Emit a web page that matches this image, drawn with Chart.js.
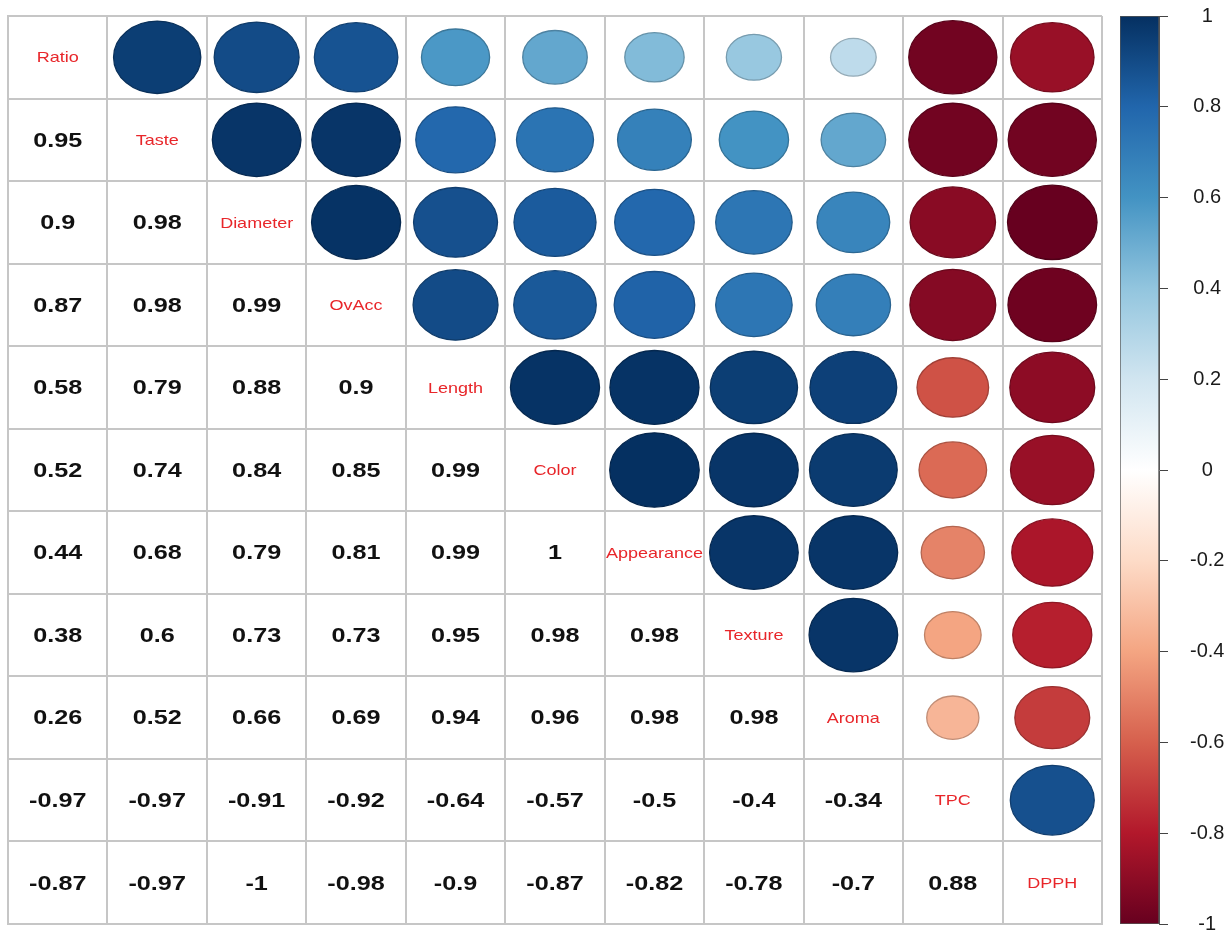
<!DOCTYPE html>
<html>
<head>
<meta charset="utf-8">
<title>Correlation matrix</title>
<script src="https://cdn.jsdelivr.net/npm/chart.js@4.4.1/dist/chart.umd.min.js"></script>
<style>
  html, body { margin: 0; padding: 0; background: #fff; }
  #wrap { position: relative; width: 1232px; height: 931px; }
  .box { position: absolute; top: 0; }
</style>
</head>
<body>
<div id="wrap">
  <div class="box" style="left:0;width:1110px;height:931px"><canvas id="corr"></canvas></div>
  <div class="box" style="left:1100px;width:132px;height:931px"><canvas id="bar"></canvas></div>
</div>
<script>
const variables = ['Ratio', 'Taste', 'Diameter', 'OvAcc', 'Length', 'Color', 'Appearance', 'Texture', 'Aroma', 'TPC', 'DPPH'];

// lower triangle of the correlation matrix, one row per variable
const lowerTri = [
  [],
  [0.95],
  [0.9, 0.98],
  [0.87, 0.98, 0.99],
  [0.58, 0.79, 0.88, 0.9],
  [0.52, 0.74, 0.84, 0.85, 0.99],
  [0.44, 0.68, 0.79, 0.81, 0.99, 1],
  [0.38, 0.6, 0.73, 0.73, 0.95, 0.98, 0.98],
  [0.26, 0.52, 0.66, 0.69, 0.94, 0.96, 0.98, 0.98],
  [-0.97, -0.97, -0.91, -0.92, -0.64, -0.57, -0.5, -0.4, -0.34],
  [-0.87, -0.97, -1, -0.98, -0.9, -0.87, -0.82, -0.78, -0.7, 0.88]
];

const colorbarTicks = [-1, -0.8, -0.6, -0.4, -0.2, 0, 0.2, 0.4, 0.6, 0.8, 1];

// RdBu, from -1 to 1
const paletteStops = ['#67001F', '#B2182B', '#D6604D', '#F4A582', '#FDDBC7', '#FFFFFF',
                      '#D1E5F0', '#92C5DE', '#4393C3', '#2166AC', '#053061'];

const STRETCH = 1.2;   // text is drawn a bit wider than tall, like the ellipses

const hexToRgb = (h) => [1, 3, 5].map(i => parseInt(h.substr(i, 2), 16));

const corrRgb = (v) => {
  const t = (Math.max(-1, Math.min(1, v)) + 1) / 2 * (paletteStops.length - 1);
  const i = Math.min(Math.floor(t), paletteStops.length - 2);
  const f = t - i;
  const a = hexToRgb(paletteStops[i]), b = hexToRgb(paletteStops[i + 1]);
  return a.map((x, k) => Math.round(x + (b[k] - x) * f));
};
const rgbStr = (c, k = 1) => `rgb(${Math.round(c[0] * k)},${Math.round(c[1] * k)},${Math.round(c[2] * k)})`;

// full symmetric matrix
const n = variables.length;
const matrix = variables.map((_, i) => variables.map((_, j) => {
  if (i === j) return 1;
  return i > j ? lowerTri[i][j] : lowerTri[j][i];
}));

const upperPts = [], lowerPts = [], diagPts = [];
for (let i = 0; i < n; i++) {
  for (let j = 0; j < n; j++) {
    const p = { x: j + 0.5, y: i + 0.5, v: matrix[i][j], name: variables[i] };
    if (j > i) upperPts.push(p);
    else if (j < i) lowerPts.push(p);
    else diagPts.push(p);
  }
}

const stretchedText = (ctx, txt, x, y) => {
  ctx.save();
  ctx.translate(x, y);
  ctx.scale(STRETCH, 1);
  ctx.fillText(txt, 0, 0);
  ctx.restore();
};

const cellPlugin = {
  id: 'cellPlugin',
  afterDatasetsDraw(chart) {
    const { ctx, scales: { x, y } } = chart;
    const cw = Math.abs(x.getPixelForValue(1) - x.getPixelForValue(0));
    const ch = Math.abs(y.getPixelForValue(1) - y.getPixelForValue(0));

    // circles (area ~ |r|) in the upper triangle
    chart.getDatasetMeta(0).data.forEach((el, k) => {
      const v = upperPts[k].v;
      const s = 0.45 * Math.sqrt(Math.abs(v));
      const c = corrRgb(v);
      ctx.save();
      ctx.beginPath();
      ctx.ellipse(el.x, el.y, s * cw, s * ch, 0, 0, Math.PI * 2);
      ctx.fillStyle = rgbStr(c);
      ctx.fill();
      ctx.lineWidth = 1.3;
      ctx.strokeStyle = rgbStr(c, 0.78);
      ctx.stroke();
      ctx.restore();
    });

    ctx.save();
    ctx.textAlign = 'center';
    ctx.textBaseline = 'middle';

    // coefficients in the lower triangle
    ctx.fillStyle = '#111';
    ctx.font = 'bold 21px "Liberation Sans", Arial, sans-serif';
    chart.getDatasetMeta(1).data.forEach((el, k) => {
      stretchedText(ctx, String(lowerPts[k].v), el.x, el.y + 1);
    });

    // variable names on the diagonal
    ctx.fillStyle = '#e8262a';
    ctx.font = '15px "Liberation Sans", Arial, sans-serif';
    chart.getDatasetMeta(2).data.forEach((el, k) => {
      stretchedText(ctx, diagPts[k].name, el.x, el.y + 1);
    });
    ctx.restore();
  }
};

const gridAxis = (extra) => Object.assign({
  type: 'linear',
  min: 0,
  max: n,
  ticks: { display: false, stepSize: 1 },
  grid: { color: '#c6c6c6', lineWidth: 2, drawTicks: false },
  border: { display: true, color: '#c6c6c6', width: 2 }
}, extra);

new Chart(document.getElementById('corr'), {
  type: 'scatter',
  data: {
    datasets: [
      { label: 'upper', data: upperPts, pointRadius: 0 },
      { label: 'lower', data: lowerPts, pointRadius: 0 },
      { label: 'diag', data: diagPts, pointRadius: 0 }
    ]
  },
  options: {
    responsive: true,
    maintainAspectRatio: false,
    animation: false,
    events: [],
    layout: { padding: { left: 8, top: 16, right: 8, bottom: 7 } },
    plugins: { legend: { display: false }, tooltip: { enabled: false } },
    scales: {
      x: gridAxis({}),
      y: gridAxis({ reverse: true })
    }
  },
  plugins: [cellPlugin]
});

// colour key
new Chart(document.getElementById('bar'), {
  type: 'bar',
  data: {
    labels: [''],
    datasets: [{
      data: [[-1, 1]],
      backgroundColor: (context) => {
        const area = context.chart.chartArea;
        if (!area) return '#fff';
        const g = context.chart.ctx.createLinearGradient(0, area.bottom, 0, area.top);
        paletteStops.forEach((c, k) => g.addColorStop(k / (paletteStops.length - 1), c));
        return g;
      },
      borderColor: '#555',
      borderWidth: 1,
      borderSkipped: false,
      barPercentage: 1,
      categoryPercentage: 1
    }]
  },
  options: {
    responsive: true,
    maintainAspectRatio: false,
    animation: false,
    events: [],
    layout: { padding: { left: 20, top: 16, right: 0, bottom: 7 } },
    plugins: { legend: { display: false }, tooltip: { enabled: false } },
    scales: {
      x: { display: false },
      y: {
        position: 'right',
        min: -1,
        max: 1,
        afterBuildTicks: (scale) => { scale.ticks = colorbarTicks.map(v => ({ value: v })); },
        afterFit: (scale) => {
          scale.width = 73;
          scale.paddingTop = 0;
          scale.paddingBottom = 0;
        },
        ticks: {
          crossAlign: 'center',
          padding: 22,
          color: '#1a1a1a',
          font: { family: '"Liberation Sans", Arial, sans-serif', size: 20 },
          callback: (v) => String(Math.round(v * 10) / 10)
        },
        grid: { drawOnChartArea: false, drawTicks: true, tickLength: 9, color: '#444', lineWidth: 1 },
        border: { display: true, color: '#555' }
      }
    }
  }
});
</script>
</body>
</html>
